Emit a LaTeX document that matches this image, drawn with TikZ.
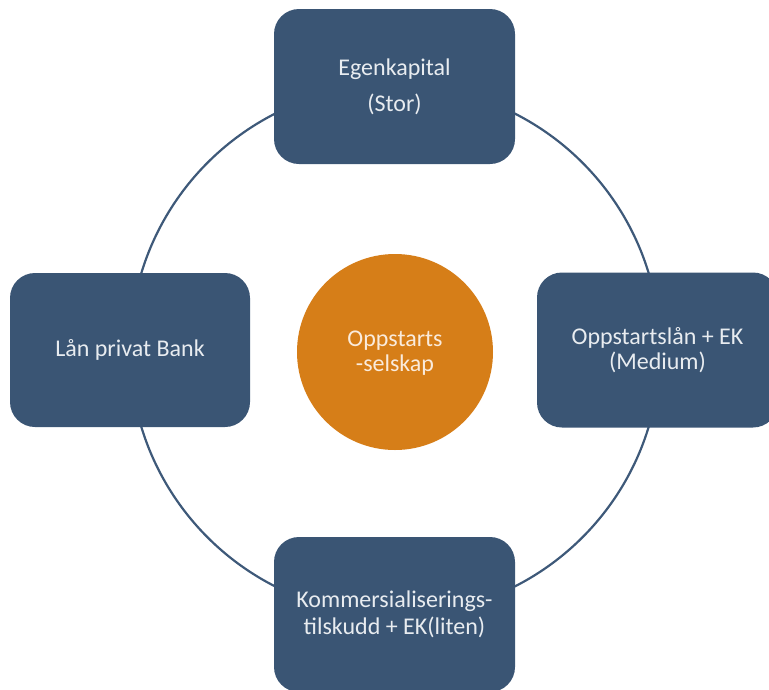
\documentclass[tikz,border=0pt]{standalone}
\usepackage{fontspec}
\setmainfont{Carlito}
\definecolor{boxblue}{HTML}{3A5574}
\definecolor{ringblue}{HTML}{3E5979}
\definecolor{hubor}{HTML}{D67E18}
\definecolor{boxtxt}{HTML}{E8ECF0}
\definecolor{hubtxt}{HTML}{FAEBDC}
% struts fixing the top of the first line and the bottom of the last line
\newcommand\hiStrut{\rule{0pt}{20pt}}
\newcommand\loStrut{\rule[-7pt]{0pt}{7pt}}
\begin{document}
\begin{tikzpicture}[x=1pt,y=-1pt,
  fundbox/.style={draw=none, fill=boxblue, rounded corners=25pt,
    minimum width=241pt, minimum height=155pt, inner sep=0pt,
    align=center, text=boxtxt},
  hub/.style={circle, fill=hubor, minimum size=196pt, inner sep=0pt,
    align=center, text=hubtxt},
  ring/.style={draw=ringblue, line width=2.2pt}]
\useasboundingbox (0,0) rectangle (769,689);
\clip (0,0) rectangle (769,689);
% ring behind everything
\coordinate (mid) at (395,350);
\draw[ring] (mid) circle[radius=265pt];
% financing sources
\node[fundbox, font=\fontsize{24}{36}\selectfont] (equity) at (394.5,86.5)
  {\hiStrut Egenkapital\\(Stor)\loStrut};
\node[fundbox, font=\fontsize{24}{25}\selectfont] (startloan) at (657.5,350)
  {\hiStrut Oppstartslån + EK\\(Medium)\loStrut};
\node[fundbox, font=\fontsize{24}{27}\selectfont] (grant) at (394.5,614.5)
  {\hiStrut Kommersialiserings-\\tilskudd + EK(liten)\loStrut};
\node[fundbox, minimum width=240pt, minimum height=154pt,
  font=\fontsize{24}{25}\selectfont] (bank) at (130,350)
  {\hiStrut Lån privat Bank\loStrut};
% the company in the middle
\node[hub, font=\fontsize{24}{25}\selectfont] (startup) at (395,352)
  {\hiStrut Oppstarts\\-selskap\loStrut};
\end{tikzpicture}
\end{document}
